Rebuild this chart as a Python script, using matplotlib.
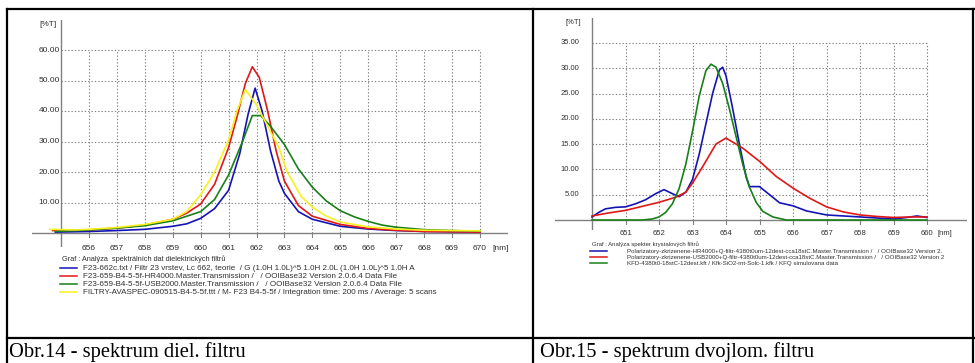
import numpy as np
import matplotlib
matplotlib.use("Agg")
import matplotlib.pyplot as plt
from matplotlib.lines import Line2D

W, H = 975, 363

# ---- left chart: dielectric filter spectra ----
blue1_x = [654.8, 656, 657, 658, 659, 659.5, 660, 660.5, 661, 661.4, 661.7, 661.95,
           662.2, 662.5, 662.8, 663, 663.5, 664, 665, 666, 667, 668, 670]
blue1_y = [0.3, 0.5, 0.8, 1.2, 2.2, 3.0, 4.8, 8.0, 14, 26, 39, 47.5,
           40, 27, 17, 13, 7, 4.5, 2.2, 1.3, 0.8, 0.5, 0.3]
red1_x = [654.7, 656, 657, 658, 659, 659.5, 660, 660.5, 661, 661.3, 661.6, 661.85,
          662.1, 662.4, 662.7, 663, 663.5, 664, 665, 666, 667, 668, 670]
red1_y = [0.8, 1.0, 1.6, 2.6, 4.5, 6.5, 9.5, 16, 28, 38, 49, 54.5,
          51, 40, 27, 17, 9, 5.5, 2.8, 1.5, 0.9, 0.5, 0.3]
green1_x = [654.8, 656, 657, 658, 659, 660, 660.5, 661, 661.5, 661.85, 662.15, 662.5,
            663, 663.5, 664, 664.5, 665, 665.5, 666, 666.5, 667, 668, 669, 670]
green1_y = [0.5, 1.0, 1.6, 2.4, 4.0, 7.0, 11, 19, 30, 38.5, 38.5, 35,
            29, 21, 15, 10.5, 7.3, 5.3, 3.8, 2.6, 1.9, 1.1, 0.8, 0.6]
yellow1_x = [654.6, 655.5, 656, 657, 658, 659, 659.5, 660, 660.5, 661, 661.3, 661.6,
             662.0, 662.4, 662.8, 663.1, 663.6, 664, 664.5, 665, 666, 667, 668, 670]
yellow1_y = [1.2, 1.0, 1.2, 1.8, 2.8, 4.5, 7, 12.5, 20, 30.5, 40, 47,
             42, 35, 28, 20, 12, 8.5, 5.5, 3.6, 2.0, 1.3, 0.9, 0.7]
xticks1 = list(range(656, 671))
yticks1 = [10, 20, 30, 40, 50, 60]
legend1_title = "Graf : Analýza  spektrálních dat dielektrických filtrů"
legend1 = [
    "F23-662c.txt / Filtr 23 vrstev, Lc 662, teorie  / G (1.0H 1.0L)^5 1.0H 2.0L (1.0H 1.0L)^5 1.0H A",
    "F23-659-B4-5-5f-HR4000.Master.Transmission /   / OOIBase32 Version 2.0.6.4 Data File",
    "F23-659-B4-5-5f-USB2000.Master.Transmission /   / OOIBase32 Version 2.0.6.4 Data File",
    "FILTRY-AVASPEC-090515-B4-5-5f.ttt / M- F23 B4-5-5f / Integration time: 200 ms / Average: 5 scans",
]
caption1 = "Obr.14 - spektrum diel. filtru"

# ---- right chart: birefringent filter spectra ----
blue2_x = [650.0, 650.2, 650.4, 650.7, 651.0, 651.3, 651.6, 651.9, 652.15, 652.4, 652.6,
           652.8, 653.0, 653.2, 653.4, 653.6, 653.8, 653.9, 654.0, 654.2, 654.4, 654.6,
           654.7, 655.0, 655.3, 655.6, 656.0, 656.4, 657.0, 657.5, 658.0, 658.5, 659.0,
           659.4, 659.7, 660.0]
blue2_y = [0.6, 1.5, 2.2, 2.5, 2.6, 3.2, 4.0, 5.2, 6.0, 5.2, 4.6,
           5.5, 8.0, 13, 19, 25, 29.6, 30.2, 28.5, 22, 15, 8.5,
           6.6, 6.6, 5.0, 3.4, 2.8, 1.8, 1.0, 0.8, 0.6, 0.4, 0.2,
           0.5, 0.8, 0.5]
red2_x = [650.0, 650.5, 651.0, 651.5, 652.0, 652.5, 652.8, 653.0, 653.3, 653.7, 654.0,
          654.5, 655.0, 655.5, 656.0, 656.5, 657.0, 657.5, 658.0, 658.5, 659.0, 659.5, 660.0]
red2_y = [0.8, 1.4, 1.9, 2.7, 3.5, 4.5, 5.5, 7.3, 10.5, 15, 16.2,
          14.2, 11.6, 8.6, 6.3, 4.3, 2.6, 1.6, 1.0, 0.7, 0.5, 0.6, 0.6]
green2_x = [650.0, 651.5, 651.8, 652.0, 652.2, 652.4, 652.6, 652.8, 653.0, 653.2, 653.4,
            653.55, 653.7, 653.9, 654.1, 654.3, 654.5, 654.7, 654.9, 655.1, 655.4, 655.8, 660.0]
green2_y = [0.0, 0.0, 0.2, 0.6, 1.5, 3.2, 6.2, 11, 17.5, 24.5, 29.5,
            30.8, 30.2, 27, 22, 16.5, 11, 6.5, 3.5, 1.7, 0.6, 0.0, 0.0]
xticks2 = list(range(651, 661))
yticks2 = [5, 10, 15, 20, 25, 30, 35]
legend2_title = "Graf : Analýza spekter krystalových filtrů"
legend2 = [
    "Polarizatory-zkrizenene-HR4000+Q-filtr-4380t0um-12dest-cca18stC.Master.Transmission /   / OOIBase32 Version 2.",
    "Polarizatory-zkrizenene-USB2000+Q-filtr-4380t0um-12dest-cca18stC.Master.Transmission /   / OOIBase32 Version 2",
    "KFD-4380t0-18stC-12dest.kft / Kfk-SiO2-mt-Solc-1.kfk / KFQ simulovana data",
]
caption2 = "Obr.15 - spektrum dvojlom. filtru"

BLUE, RED, GREEN, YELLOW = "#1414b4", "#e01818", "#188018", "#f8f020"
GRID = "#808080"
TXT = "#303030"
SANS = "Liberation Sans"

fig = plt.figure(figsize=(W / 100, H / 100), dpi=100)
fig.patch.set_facecolor("white")


def px(x, y):
    return x / W, 1 - y / H


def ftext(x, y, s, **kw):
    fx, fy = px(x, y)
    fig.text(fx, fy, s, **kw)


def fline(x0, y0, x1, y1, **kw):
    a, b = px(x0, y0)
    c, d = px(x1, y1)
    fig.add_artist(Line2D([a, c], [b, d], transform=fig.transFigure, **kw))


def make_axes(left, right, top, bottom, x0px, x0, xscale, y0px, yscale):
    ax = fig.add_axes([left / W, 1 - bottom / H, (right - left) / W, (bottom - top) / H])
    ax.set_xlim(x0 + (left - x0px) / xscale, x0 + (right - x0px) / xscale)
    ax.set_ylim((y0px - bottom) / yscale, (y0px - top) / yscale)
    ax.axis("off")
    return ax


def draw_chart(ax, x0, xticks, yticks, series, fs, ylab_gap, tick_len):
    xmin, xmax = ax.get_xlim()
    ymin, ymax = ax.get_ylim()
    xt_end = xticks[-1]
    yt_top = yticks[-1]
    for t in xticks:
        ax.plot([t, t], [0, yt_top], color=GRID, lw=0.8, ls=(0, (1.2, 1.8)), zorder=1)
        ax.plot([t, t], [0, -tick_len], color=GRID, lw=0.8, zorder=1)
    for v in yticks:
        ax.plot([x0, xt_end], [v, v], color=GRID, lw=0.8, ls=(0, (1.2, 1.8)), zorder=1)
    ax.plot([xmin, xmax], [0, 0], color=GRID, lw=1.0, zorder=2)
    ax.plot([x0, x0], [ymin, ymax], color=GRID, lw=1.0, zorder=2)
    for xs, ys, c in series:
        ax.plot(xs, ys, color=c, lw=1.2, zorder=3)
    for v in yticks:
        ax.text(x0 - ylab_gap, v, f"{v:.2f}", ha="right", va="center",
                fontsize=fs, color=TXT, family=SANS)


# left chart
ax1 = make_axes(32, 508, 20, 247, 61, 655, 27.93, 233, 3.05)
draw_chart(ax1, 655, xticks1, yticks1,
           [(blue1_x, blue1_y, BLUE), (red1_x, red1_y, RED),
            (green1_x, green1_y, GREEN), (yellow1_x, yellow1_y, YELLOW)],
           6, 0.05, 1.3)
for t in xticks1:
    ax1.text(t, -5.2, str(t), ha="center", va="center", fontsize=6, color=TXT,
             family=SANS, clip_on=False)
ftext(492, 249, "[nm]", ha="left", va="center", fontsize=6, color=TXT, family=SANS)
ftext(39, 24, "[%T]", ha="left", va="center", fontsize=6, color=TXT, family=SANS)

# right chart
ax2 = make_axes(555, 967, 18, 230, 592, 650, 33.5, 220, 5.06)
draw_chart(ax2, 650, xticks2, yticks2,
           [(blue2_x, blue2_y, BLUE), (red2_x, red2_y, RED), (green2_x, green2_y, GREEN)],
           5.5, 0.38, 0.8)
for t in xticks2:
    ax2.text(t, -2.6, str(t), ha="center", va="center", fontsize=5.5, color=TXT,
             family=SANS, clip_on=False)
ftext(937, 233, "[nm]", ha="left", va="center", fontsize=5.5, color=TXT, family=SANS)
ftext(565, 23, "[%T]", ha="left", va="center", fontsize=5.5, color=TXT, family=SANS)

# legends
ftext(62, 259, legend1_title, ha="left", va="center", fontsize=5.3, color=TXT, family=SANS)
for i, (lab, c) in enumerate(zip(legend1, [BLUE, RED, GREEN, YELLOW])):
    y = 268 + 8 * i
    fline(60, y, 77, y, color=c, lw=1.1)
    ftext(83, y, lab, ha="left", va="center", fontsize=5.8, color=TXT, family=SANS)

ftext(592, 244, legend2_title, ha="left", va="center", fontsize=4.3, color=TXT, family=SANS)
for i, (lab, c) in enumerate(zip(legend2, [BLUE, RED, GREEN])):
    y = 251 + 6 * i
    fline(590, y, 607, y, color=c, lw=1.1)
    ftext(627, y, lab, ha="left", va="center", fontsize=4.4, color=TXT, family=SANS)

# table frame and captions
for x0, y0, x1, y1 in [(7, 9, 975, 9), (7, 9, 7, 363), (533, 9, 533, 363),
                       (7, 338, 975, 338), (973, 9, 973, 363)]:
    fline(x0, y0, x1, y1, color="black", lw=1.6)
ftext(9, 352, caption1, ha="left", va="center", fontsize=14.8, color="black",
      family="Liberation Serif")
ftext(540, 352, caption2, ha="left", va="center", fontsize=14.8, color="black",
      family="Liberation Serif")

fig.savefig("out.png", dpi=100, facecolor="white")
